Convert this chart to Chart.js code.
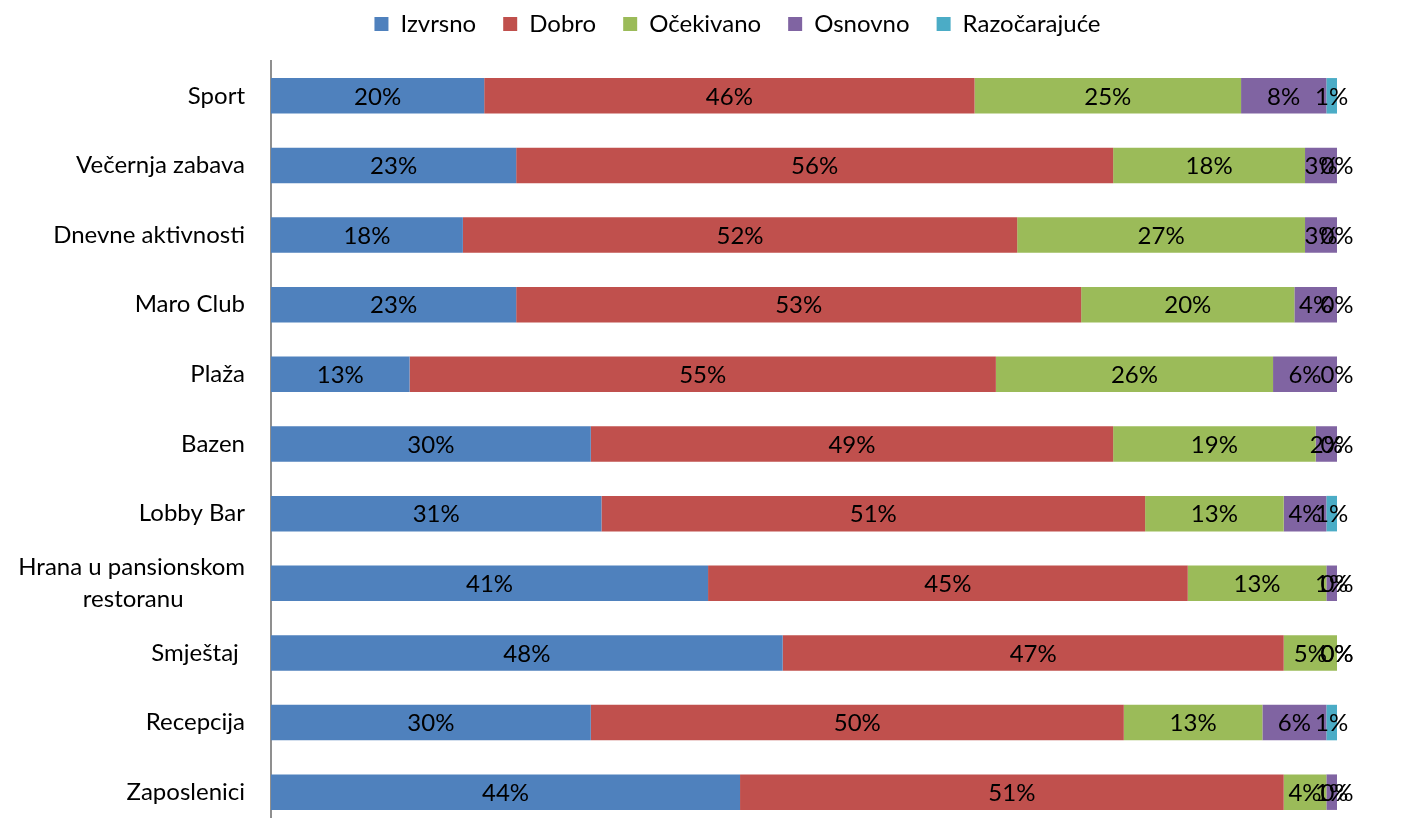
<!DOCTYPE html>
<html>
<head>
<meta charset="utf-8">
<script src="https://cdn.jsdelivr.net/npm/chart.js@4"></script>
<style>
html,body{margin:0;padding:0;overflow:hidden;background:#fff;}
canvas{display:block;}
</style>
</head>
<body>
<canvas id="c" width="1409" height="827" style="width:1409px;height:827px;"></canvas>
<script>
const categories = ['Sport', 'Večernja zabava', 'Dnevne aktivnosti', 'Maro Club', 'Plaža', 'Bazen', 'Lobby Bar', ['Hrana u pansionskom', 'restoranu'], 'Smještaj ', 'Recepcija', 'Zaposlenici'];
const seriesNames = ['Izvrsno', 'Dobro', 'Očekivano', 'Osnovno', 'Razočarajuće'];
const izvrsno      = [20, 23, 18, 23, 13, 30, 31, 41, 48, 30, 44];
const dobro        = [46, 56, 52, 53, 55, 49, 51, 45, 47, 50, 51];
const ocekivano    = [25, 18, 27, 20, 26, 19, 13, 13,  5, 13,  4];
const osnovno      = [ 8,  3,  3,  4,  6,  2,  4,  1,  0,  6,  1];
const razocarajuce = [ 1,  0,  0,  0,  0,  0,  1,  0,  0,  1,  0];
const seriesValues = [izvrsno, dobro, ocekivano, osnovno, razocarajuce];
const seriesColors = ['#4F81BD', '#C0504D', '#9BBB59', '#8064A2', '#4BACC6'];

const FAMILY = 'Lato, "Open Sans", sans-serif';
const FSIZE = 24;

const measureCtx = document.createElement('canvas').getContext('2d');
function centerLines(lines) {
  measureCtx.font = FSIZE + 'px ' + FAMILY;
  const w = lines.map(t => measureCtx.measureText(t).width);
  const max = Math.max(...w);
  const sp = measureCtx.measureText('\u00A0').width || 5;
  return lines.map((t, i) => t + '\u00A0'.repeat(Math.round((max - w[i]) / 2 / sp)));
}

const valueLabels = {
  id: 'valueLabels',
  afterDatasetsDraw(chart) {
    const ctx = chart.ctx;
    ctx.save();
    ctx.font = FSIZE + 'px ' + FAMILY;
    ctx.fillStyle = '#000';
    ctx.textAlign = 'center';
    ctx.textBaseline = 'middle';
    chart.data.datasets.forEach((ds, i) => {
      const meta = chart.getDatasetMeta(i);
      meta.data.forEach((el, j) => {
        const p = el.getCenterPoint();
        ctx.fillText(ds.data[j] + '%', p.x, p.y + 1);
      });
    });
    ctx.restore();
  }
};

const legendTweak = {
  id: 'legendTweak',
  beforeUpdate(chart) {
    const lg = chart.legend;
    if (lg && !lg._patched) {
      const f = lg.fit;
      lg.fit = function () { f.call(this); this.height = 61; };
      lg._patched = true;
    }
  },
  afterLayout(chart) {
    const lg = chart.legend;
    lg.left += 69; lg.right += 69;
    lg.top -= 15;
  }
};

new Chart(document.getElementById('c'), {
  type: 'bar',
  data: {
    labels: categories,
    datasets: seriesNames.map((n, i) => ({
      label: n,
      data: seriesValues[i],
      backgroundColor: seriesColors[i],
      borderWidth: 0,
      barPercentage: 0.51,
      categoryPercentage: 1
    }))
  },
  options: {
    indexAxis: 'y',
    responsive: false,
    maintainAspectRatio: false,
    animation: false,
    devicePixelRatio: 1,
    layout: { padding: { left: 0, right: 72, top: 0, bottom: 0 } },
    plugins: {
      legend: {
        position: 'top',
        labels: {
          color: '#000',
          font: { family: FAMILY, size: FSIZE },
          boxWidth: 14,
          boxHeight: 14,
          padding: 27
        }
      },
      tooltip: { enabled: false }
    },
    scales: {
      x: { stacked: true, display: false, min: 0, max: 100 },
      y: {
        stacked: true,
        grid: { display: false, drawTicks: false },
        border: { display: true, color: '#8f8f8f', width: 2 },
        ticks: {
          color: '#000',
          padding: 26,
          font: { family: FAMILY, size: FSIZE, lineHeight: 1.3 },
          callback: function (v) {
            const l = this.getLabelForValue(v);
            return Array.isArray(l) ? centerLines(l) : l;
          }
        },
        afterFit(s) { s.width = 271; s.paddingTop = 0; s.paddingBottom = 0; }
      }
    }
  },
  plugins: [valueLabels, legendTweak]
});
</script>
</body>
</html>
